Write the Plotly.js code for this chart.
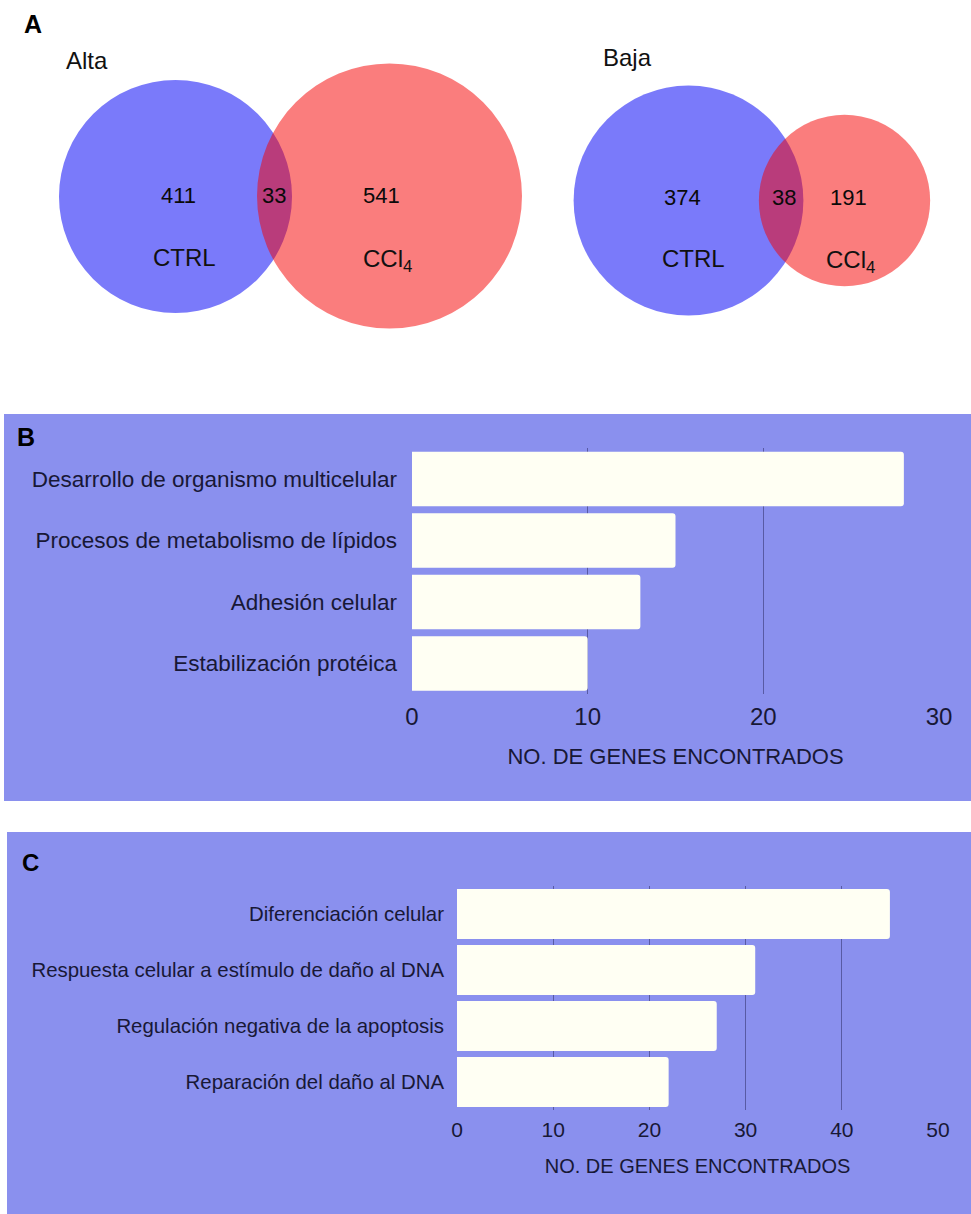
<!DOCTYPE html>
<html>
<head>
<meta charset="utf-8">
<script src="https://cdn.plot.ly/plotly-3.0.1.min.js"></script>
<style>
  html, body { margin: 0; padding: 0; background: #ffffff; }
  #chart { width: 971px; height: 1214px; }
</style>
</head>
<body>
<div id="chart"></div>
<script>
// ---------- DATA ----------
// Panel A: Venn diagrams (only CTRL, shared, only CCl4)
const vennTitles = ["Alta", "Baja"];
const vennCtrlOnly = [411, 374];
const vennShared = [33, 38];
const vennCclOnly = [541, 191];
const vennSetNames = ["CTRL", "CCl<sub>4</sub>"];

// Panel B
const catsB = [
  "Desarrollo de organismo multicelular",
  "Procesos de metabolismo de lípidos",
  "Adhesión celular",
  "Estabilización protéica"
];
const valsB = [28, 15, 13, 10];

// Panel C
const catsC = [
  "Diferenciación celular",
  "Respuesta celular a estímulo de daño al DNA",
  "Regulación negativa de la apoptosis",
  "Reparación del daño al DNA"
];
const valsC = [45, 31, 27, 22];

const xTitle = "NO. DE GENES ENCONTRADOS";

// ---------- STYLE / LAYOUT ----------
const W = 971, H = 1214;
const px = v => v / W;
const py = v => 1 - v / H;
const FONT = "Liberation Sans, Arial, Helvetica, sans-serif";
const NARROW = "Liberation Sans Narrow, Arial Narrow, Liberation Sans, sans-serif";
const TXT = "#181836";
const PANEL = "#8a90ee";
const BAR = "#fffff3";
const GRID = "rgba(55,55,115,0.6)";
const BLUE = "rgba(0,0,246,0.52)";
const RED = "rgba(245,0,0,0.51)";

// Venn geometry (pixel-like data space of axis x3/y3); radius ~ sqrt(set size)
const vennScale = [5.53, 5.66];
const vennCenters = [
  { ctrl: [175.5, 196.5], ccl: [389.5, 196] },
  { ctrl: [688.5, 200.5], ccl: [844.5, 200.5] }
];
const vennLabelPos = [
  { title: [87, 60], nums: [[178, 195], [274, 195], [381, 195]], names: [[184, 257], [387, 260]] },
  { title: [627, 57], nums: [[682, 197], [784, 197], [848, 197]], names: [[693, 258], [850, 261]] }
];

const shapes = [];
const annotations = [];

// panel backgrounds
shapes.push({ type: "rect", xref: "paper", yref: "paper", x0: px(4), x1: 1.01, y0: py(801), y1: py(414),
  fillcolor: PANEL, line: { width: 0 }, layer: "below" });
shapes.push({ type: "rect", xref: "paper", yref: "paper", x0: px(7), x1: 1.01, y0: -0.01, y1: py(832),
  fillcolor: PANEL, line: { width: 0 }, layer: "below" });

// Venn circles
for (let i = 0; i < 2; i++) {
  const totals = [vennCtrlOnly[i] + vennShared[i], vennCclOnly[i] + vennShared[i]];
  const cs = [vennCenters[i].ctrl, vennCenters[i].ccl];
  const cols = [BLUE, RED];
  for (let j = 0; j < 2; j++) {
    const r = vennScale[i] * Math.sqrt(totals[j]);
    shapes.push({ type: "circle", xref: "x3", yref: "y3",
      x0: cs[j][0] - r, x1: cs[j][0] + r, y0: cs[j][1] - r, y1: cs[j][1] + r,
      fillcolor: cols[j], line: { width: 0 } });
  }
  const lp = vennLabelPos[i];
  annotations.push({ xref: "x3", yref: "y3", x: lp.title[0], y: lp.title[1], text: vennTitles[i],
    xanchor: "center", yanchor: "middle",
    showarrow: false, font: { family: FONT, size: 24, color: "#111" } });
  const nums = [vennCtrlOnly[i], vennShared[i], vennCclOnly[i]];
  nums.forEach((n, k) => annotations.push({ xref: "x3", yref: "y3", x: lp.nums[k][0], y: lp.nums[k][1],
    xanchor: "center", yanchor: "middle",
    text: String(n), showarrow: false, font: { family: NARROW, size: 22, color: "#0a0a0a" } }));
  vennSetNames.forEach((n, k) => annotations.push({ xref: "x3", yref: "y3", x: lp.names[k][0], y: lp.names[k][1],
    xanchor: "center", yanchor: "middle",
    text: n, showarrow: false, font: { family: FONT, size: 24, color: "#111" } }));
}

// panel letters
annotations.push({ xref: "paper", yref: "paper", x: px(33), y: py(24), text: "<b>A</b>", showarrow: false,
  xanchor: "center", yanchor: "middle", font: { family: FONT, size: 25, color: "#000" } });
annotations.push({ xref: "paper", yref: "paper", x: px(26), y: py(437), text: "<b>B</b>", showarrow: false,
  xanchor: "center", yanchor: "middle", font: { family: FONT, size: 25, color: "#000" } });
annotations.push({ xref: "paper", yref: "paper", x: px(30), y: py(862), text: "<b>C</b>", showarrow: false,
  xanchor: "center", yanchor: "middle", font: { family: FONT, size: 24, color: "#000" } });

const traces = [
  { type: "bar", orientation: "h", x: valsB, y: catsB, xaxis: "x", yaxis: "y",
    marker: { color: BAR, cornerradius: 3, line: { width: 0 } }, hoverinfo: "x+y" },
  { type: "bar", orientation: "h", x: valsC, y: catsC, xaxis: "x2", yaxis: "y2",
    marker: { color: BAR, cornerradius: 3, line: { width: 0 } }, hoverinfo: "x+y" },
  { type: "scatter", x: [], y: [], xaxis: "x3", yaxis: "y3", hoverinfo: "skip" }
];

const xCommon = {
  showgrid: true, gridcolor: GRID, gridwidth: 1,
  zeroline: true, zerolinecolor: PANEL, zerolinewidth: 2,
  showline: false, ticks: "", automargin: false, fixedrange: true
};
const yCommon = {
  autorange: "reversed", showgrid: false, zeroline: false, showline: false, ticks: "",
  automargin: false, fixedrange: true
};

const layout = {
  width: W, height: H,
  margin: { l: 0, r: 0, t: 0, b: 0 },
  paper_bgcolor: "#ffffff",
  plot_bgcolor: "rgba(0,0,0,0)",
  showlegend: false,
  bargap: 0.11,
  font: { family: FONT, color: TXT },
  xaxis: Object.assign({}, xCommon, {
    domain: [px(412), px(939)], range: [0, 30], dtick: 10, anchor: "y",
    tickfont: { family: FONT, size: 24, color: TXT }, ticklabelstandoff: 6,
    title: { text: xTitle, font: { family: FONT, size: 22, color: TXT }, standoff: 19 }
  }),
  yaxis: Object.assign({}, yCommon, {
    domain: [py(694.25), py(448.25)], anchor: "x",
    tickfont: { family: FONT, size: 22.5, color: TXT }, ticklabelstandoff: 14
  }),
  xaxis2: Object.assign({}, xCommon, {
    domain: [px(457), px(938)], range: [0, 50], dtick: 10, anchor: "y2",
    tickfont: { family: FONT, size: 21, color: TXT }, ticklabelstandoff: 5,
    title: { text: xTitle, font: { family: FONT, size: 20, color: TXT }, standoff: 18 }
  }),
  yaxis2: Object.assign({}, yCommon, {
    domain: [py(1110), py(886)], anchor: "x2",
    tickfont: { family: FONT, size: 20.4, color: TXT }, ticklabelstandoff: 12
  }),
  xaxis3: { domain: [0, 1], range: [0, W], visible: false, fixedrange: true, anchor: "y3" },
  yaxis3: { domain: [py(340), 1], range: [340, 0], visible: false, fixedrange: true, anchor: "x3" },
  shapes: shapes,
  annotations: annotations
};

Plotly.newPlot("chart", traces, layout, { displayModeBar: false, staticPlot: true });
</script>
</body>
</html>
